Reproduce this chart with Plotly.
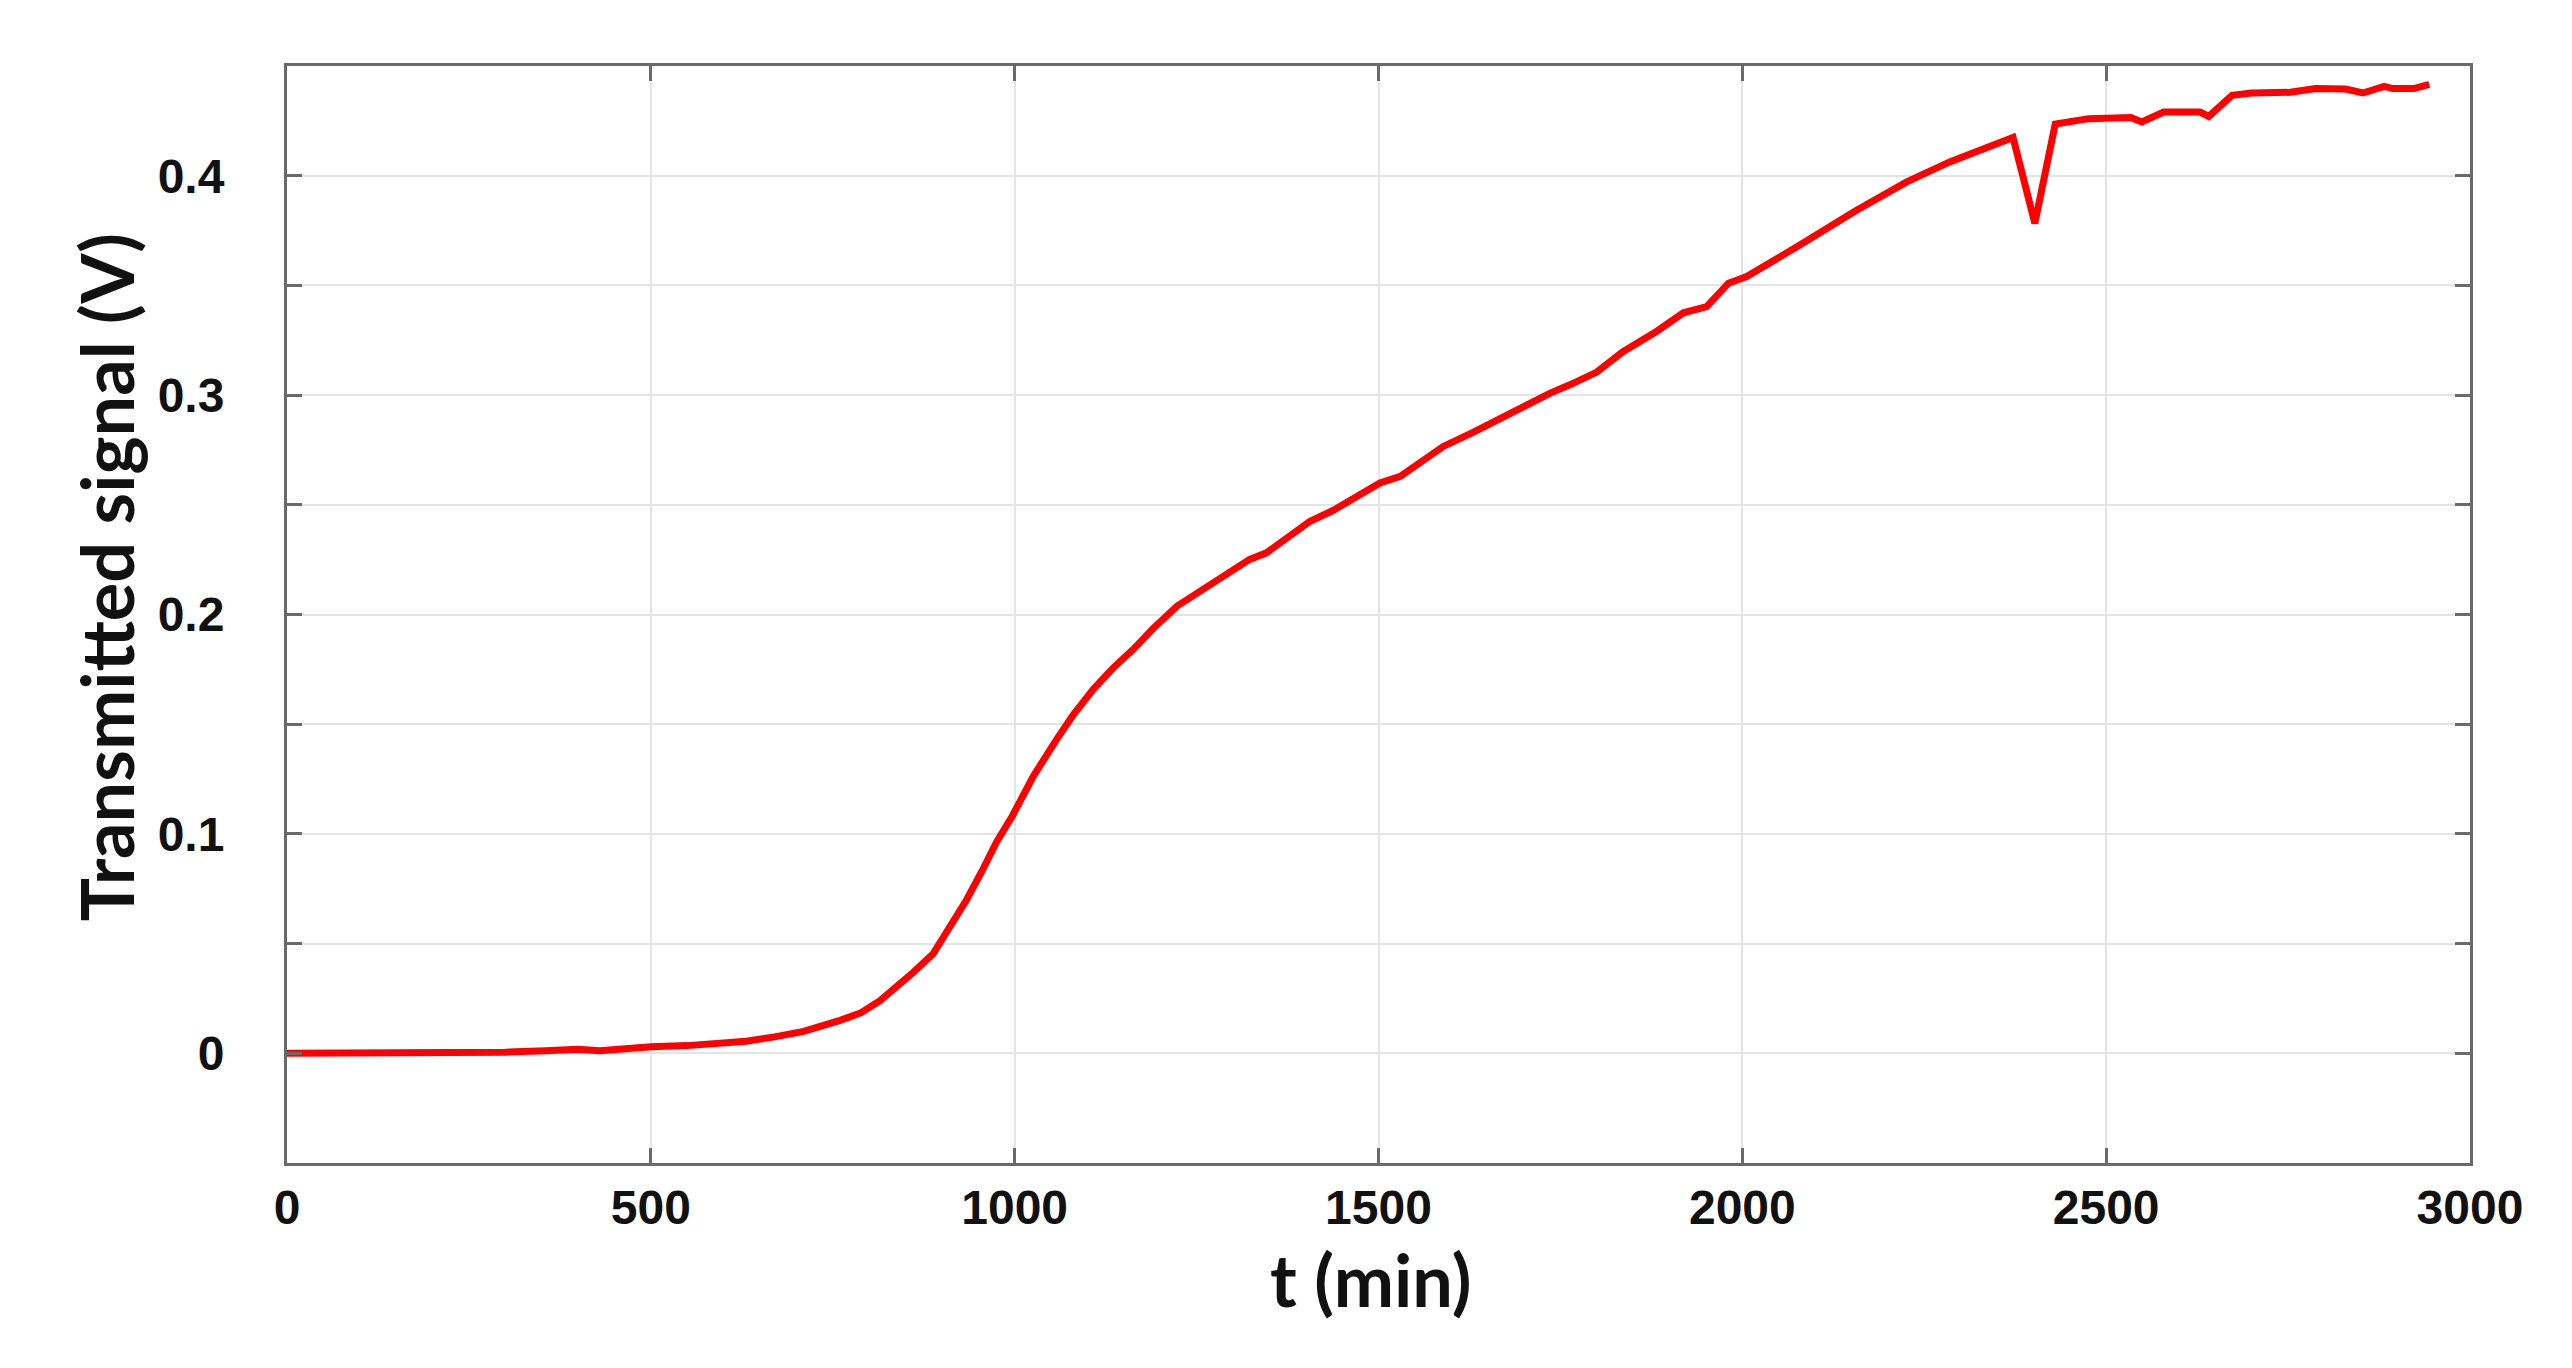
import plotly.graph_objects as go

# Data
t_min = [0, 100, 200, 300, 355, 400, 430, 460, 500, 550, 592, 631, 670, 710, 760,
         789, 815, 842, 861, 888, 910, 934, 955, 975, 997, 1026, 1058, 1080, 1108,
         1135, 1163, 1190, 1223, 1260, 1300, 1323, 1346, 1375, 1406, 1438, 1470,
         1502, 1530, 1560, 1589, 1630, 1667, 1736, 1763, 1800, 1836, 1882, 1919,
         1951, 1981, 2006, 2079, 2157, 2226, 2285, 2372, 2402, 2430, 2476, 2534,
         2549, 2579, 2629, 2641, 2673, 2700, 2753, 2788, 2829, 2853, 2882, 2894,
         2923, 2944]
signal_v = [0.0, 0.0, 0.0003, 0.0005, 0.0012, 0.0018, 0.0012, 0.0022, 0.003, 0.0035,
            0.0042, 0.0055, 0.0075, 0.0100, 0.0150, 0.0185, 0.0240, 0.0315, 0.0370,
            0.0454, 0.0565, 0.0700, 0.0830, 0.0962, 0.1083, 0.1265, 0.1432, 0.1540,
            0.1659, 0.1755, 0.1841, 0.1935, 0.2038, 0.2120, 0.2205, 0.2251, 0.2281,
            0.2355, 0.2425, 0.2475, 0.2535, 0.2600, 0.2630, 0.2700, 0.2766, 0.2830,
            0.2895, 0.3009, 0.3047, 0.3105, 0.3198, 0.3290, 0.3375, 0.3403, 0.3510,
            0.3540, 0.3684, 0.3843, 0.3972, 0.4063, 0.4174, 0.3783, 0.4235, 0.4260,
            0.4265, 0.4245, 0.4290, 0.4290, 0.4270, 0.4366, 0.4377, 0.4380, 0.4397,
            0.4395, 0.4377, 0.4407, 0.4397, 0.4397, 0.4416]

x_tickvals = [0, 500, 1000, 1500, 2000, 2500, 3000]
x_ticktext = ["0", "500", "1000", "1500", "2000", "2500", "3000"]
y_tickvals = [-0.05, 0, 0.05, 0.1, 0.15, 0.2, 0.25, 0.3, 0.35, 0.4, 0.45]
y_ticktext = ["", "0", "", "0.1", "", "0.2", "", "0.3", "", "0.4", ""]

x_title = "t (min)"
y_title = "Transmitted signal (V)"

fig = go.Figure()
fig.add_trace(go.Scatter(
    x=t_min, y=signal_v, mode="lines",
    line=dict(color="#ff0000", width=7),
    showlegend=False,
))

axis_common = dict(
    showline=True, linecolor="#6a6a6a", linewidth=3, mirror="ticks",
    ticks="inside", ticklen=15, tickwidth=3, tickcolor="#6a6a6a",
    showgrid=True, gridcolor="#e4e4e4", gridwidth=2,
    zeroline=False,
    tickfont=dict(family="Liberation Sans, Arial", size=48, color="#111111", weight="bold"),
)

title_font = dict(family="Lato, Open Sans", size=72, color="#111111", weight="bold")

fig.update_layout(
    width=2572, height=1368,
    paper_bgcolor="white", plot_bgcolor="white",
    margin=dict(l=279, r=110, t=58, b=213),
    xaxis=dict(
        range=[0, 3000], tickmode="array", tickvals=x_tickvals, ticktext=x_ticktext,
        ticklabelstandoff=0,
        **axis_common,
    ),
    yaxis=dict(
        range=[-0.05, 0.45], tickmode="array", tickvals=y_tickvals, ticktext=y_ticktext,
        ticklabelstandoff=50,
        **axis_common,
    ),
    annotations=[
        dict(text=x_title, xref="paper", yref="paper", x=0.4966, y=-0.106,
             xanchor="center", yanchor="middle", showarrow=False, font=title_font),
        dict(text=y_title, xref="paper", yref="paper", x=-0.0829, y=0.534,
             xanchor="center", yanchor="middle", textangle=-90, showarrow=False,
             font=title_font),
    ],
)

fig.write_html("out.html")
